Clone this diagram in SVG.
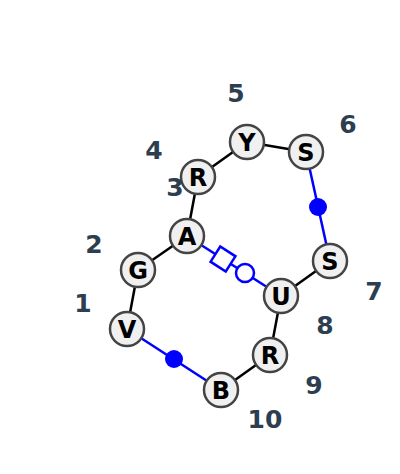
<svg xmlns="http://www.w3.org/2000/svg" width="400" height="474" viewBox="0 0 400 474">
<style>
.n circle{fill:#f0f0f0;stroke:#444;stroke-width:2.5}
.n text{font-family:"DejaVu Sans",sans-serif;font-weight:bold;font-size:24px;fill:#000;text-anchor:middle;dominant-baseline:central}
.lbl{font-family:"DejaVu Sans",sans-serif;font-weight:bold;font-size:25px;fill:#2c3e50;text-anchor:middle;dominant-baseline:central}
.bk{stroke:#000;stroke-width:2.5}
.bl{stroke:#0000ff;stroke-width:2.5;fill:none}
</style>
<rect width="400" height="474" fill="#fff"/>
<g id="connectors">
<line class="bk" x1="127" y1="329" x2="138" y2="270"/>
<line class="bk" x1="138" y1="270" x2="187" y2="236"/>
<line class="bk" x1="187" y1="236" x2="198" y2="177"/>
<line class="bk" x1="198" y1="177" x2="247" y2="142"/>
<line class="bk" x1="247" y1="142" x2="306" y2="152"/>
<line class="bl" x1="306" y1="152" x2="330" y2="261"/>
<circle cx="318" cy="207" r="9" fill="#0000ff"/>
<line class="bk" x1="330" y1="261" x2="281" y2="296"/>
<line class="bk" x1="281" y1="296" x2="270" y2="355"/>
<line class="bk" x1="270" y1="355" x2="221" y2="390"/>
<line class="bl" x1="127" y1="329" x2="221" y2="390"/>
<circle cx="174" cy="359" r="9" fill="#0000ff"/>
<line class="bl" x1="187" y1="236" x2="281" y2="296"/>
<rect x="214" y="250" width="18" height="18" transform="rotate(32.5 223 259)" fill="#fff" stroke="#0000ff" stroke-width="2.5"/>
<circle cx="245" cy="273" r="9" fill="#fff" stroke="#0000ff" stroke-width="2.5"/>
</g>
<g id="node1" class="n"><circle cx="127" cy="329" r="17"/><text x="127" y="330">V</text></g>
<g id="node2" class="n"><circle cx="138" cy="270" r="17"/><text x="138" y="271">G</text></g>
<g id="node3" class="n"><circle cx="187" cy="236" r="17"/><text x="187" y="237">A</text></g>
<g id="node4" class="n"><circle cx="198" cy="177" r="17"/><text x="198" y="178">R</text></g>
<g id="node5" class="n"><circle cx="247" cy="142" r="17"/><text x="247" y="143">Y</text></g>
<g id="node6" class="n"><circle cx="306" cy="152" r="17"/><text x="306" y="153">S</text></g>
<g id="node7" class="n"><circle cx="330" cy="261" r="17"/><text x="330" y="262">S</text></g>
<g id="node8" class="n"><circle cx="281" cy="296" r="17"/><text x="281" y="297">U</text></g>
<g id="node9" class="n"><circle cx="270" cy="355" r="17"/><text x="270" y="356">R</text></g>
<g id="node10" class="n"><circle cx="221" cy="390" r="17"/><text x="221" y="391">B</text></g>
<g id="labels">
<text class="lbl" x="83" y="303">1</text>
<text class="lbl" x="94" y="244">2</text>
<text class="lbl" x="175" y="187">3</text>
<text class="lbl" x="154" y="150">4</text>
<text class="lbl" x="236" y="93">5</text>
<text class="lbl" x="348" y="124">6</text>
<text class="lbl" x="374" y="291">7</text>
<text class="lbl" x="325" y="325">8</text>
<text class="lbl" x="314" y="385">9</text>
<text class="lbl" x="265" y="419">10</text>
</g>
</svg>
